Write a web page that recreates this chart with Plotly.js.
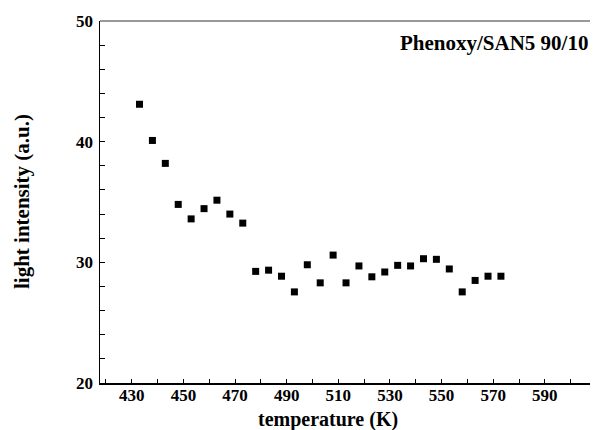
<!DOCTYPE html>
<html>
<head>
<meta charset="utf-8">
<script src="https://cdn.plot.ly/plotly-3.0.1.min.js"></script>
<style>html,body{margin:0;padding:0;background:#fff;}#chart{width:595px;height:430px;}</style>
</head>
<body>
<div id="chart"></div>
<script>
// temperature (K)
const temperature = [433, 438, 443, 448, 453, 458, 463, 468, 473, 478, 483, 488, 493, 498, 503, 508, 513, 518, 523, 528, 533, 538, 543, 548, 553, 558, 563, 568, 573];
// light intensity (a.u.)
const intensity = [43.1, 40.1, 38.2, 34.8, 33.6, 34.45, 35.15, 34.0, 33.25, 29.25, 29.35, 28.85, 27.55, 29.8, 28.3, 30.6, 28.3, 29.7, 28.8, 29.2, 29.75, 29.7, 30.3, 30.25, 29.45, 27.55, 28.5, 28.85, 28.85];
const xTickVals = [430, 450, 470, 490, 510, 530, 550, 570, 590];
const yTickVals = [20, 30, 40, 50];
const sampleLabel = "Phenoxy/SAN5 90/10";
const xTitle = "temperature (K)";
const yTitle = "light intensity (a.u.)";

const FONT = "'Liberation Serif', 'Times New Roman', serif";

const trace = {
  x: temperature,
  y: intensity,
  type: "scatter",
  mode: "markers",
  marker: {symbol: "square", size: 7, color: "#000"},
  hoverinfo: "skip"
};

const layout = {
  width: 595,
  height: 430,
  margin: {l: 100, r: 5, t: 21, b: 47},
  paper_bgcolor: "#fff",
  plot_bgcolor: "#fff",
  showlegend: false,
  font: {family: FONT, color: "#000"},
  xaxis: {
    range: [417.7, 607.5],
    tickmode: "array",
    tickvals: xTickVals,
    ticktext: xTickVals.map(String),
    ticks: "inside",
    ticklen: 4,
    tickwidth: 1,
    tickcolor: "#000",
    minor: {dtick: 10, tick0: 420, ticks: "inside", ticklen: 4, tickwidth: 1, tickcolor: "#000"},
    showgrid: false,
    zeroline: false,
    showline: true,
    linecolor: "#000",
    linewidth: 1.5,
    tickfont: {family: FONT, size: 17, color: "#000", weight: "bold"},
    ticklabelstandoff: -4
  },
  yaxis: {
    range: [20, 50],
    tickmode: "array",
    tickvals: yTickVals,
    ticktext: yTickVals.map(String),
    ticks: "inside",
    ticklen: 5,
    tickwidth: 1,
    tickcolor: "#000",
    minor: {dtick: 2, tick0: 20, ticks: "inside", ticklen: 5, tickwidth: 1, tickcolor: "#000"},
    showgrid: false,
    zeroline: false,
    showline: true,
    linecolor: "#000",
    linewidth: 1.5,
    tickfont: {family: FONT, size: 17, color: "#000", weight: "bold"},
    ticklabelstandoff: 2
  },
  shapes: [
    {type: "line", xref: "paper", yref: "paper", x0: 0, x1: 1, y0: 1, y1: 1,
     line: {color: "#333", width: 1}}
  ],
  annotations: [
    {text: "<b>" + sampleLabel + "</b>", xref: "paper", yref: "paper", x: 1, y: 0.94,
     xanchor: "right", yanchor: "middle", showarrow: false,
     font: {family: FONT, size: 21, color: "#000"}},
    {text: "<b>" + xTitle + "</b>", xref: "paper", yref: "paper", x: 0.465, y: 0,
     xanchor: "center", yanchor: "top", yshift: -23, showarrow: false,
     font: {family: FONT, size: 20, color: "#000"}},
    {text: "<b>" + yTitle + "</b>", xref: "paper", yref: "paper", x: 0, y: 0.5,
     xanchor: "center", yanchor: "middle", xshift: -78, textangle: -90, showarrow: false,
     font: {family: FONT, size: 21, color: "#000"}}
  ]
};

Plotly.newPlot("chart", [trace], layout, {staticPlot: true, displayModeBar: false});
</script>
</body>
</html>
